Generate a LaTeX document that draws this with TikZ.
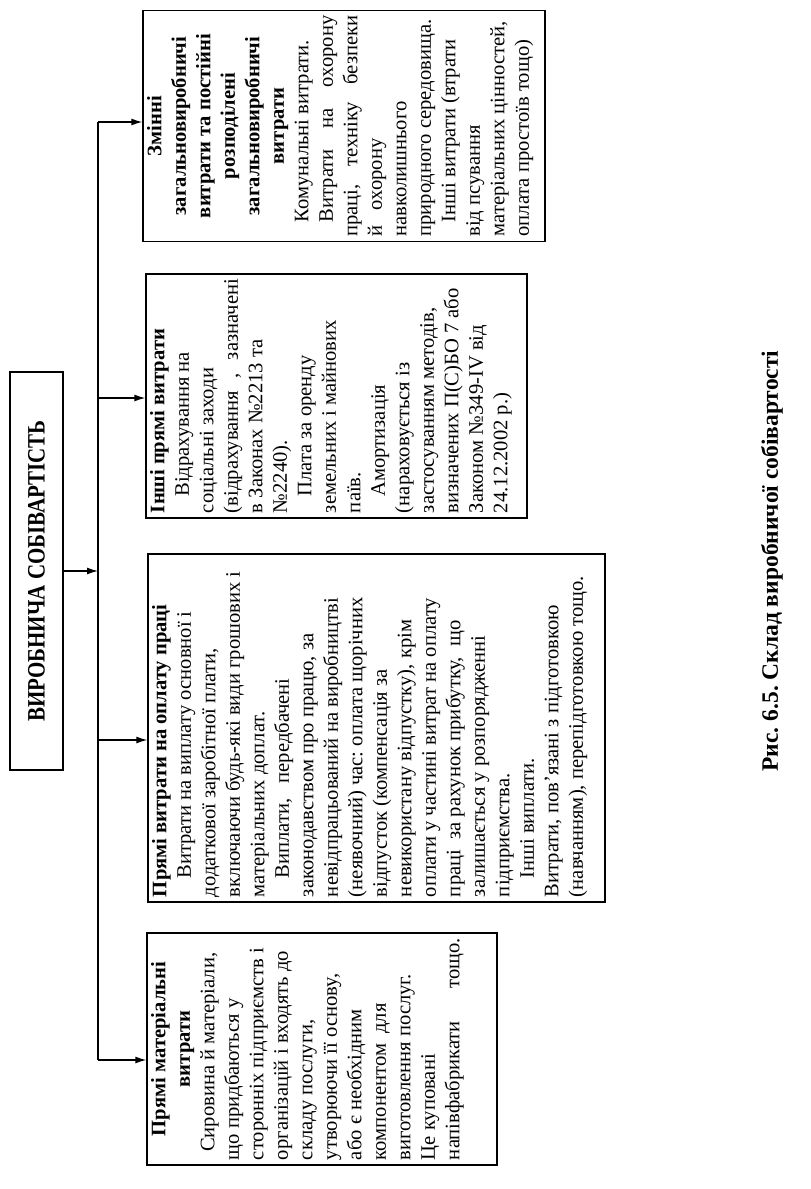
\documentclass[tikz,border=0pt]{standalone}
\usepackage{fontspec}
\setmainfont{Liberation Serif}
\usetikzlibrary{arrows.meta}
\frenchspacing
\newcommand\lineL[1]{\makebox[\linewidth][l]{#1}\par}
\newcommand\lineJ[1]{\makebox[\linewidth][s]{#1}\par}
\newcommand\lineC[1]{\makebox[\linewidth][c]{#1}\par}
\newcommand\boxcontent[3]{\parbox[c][#2][t]{#1}{\fontsize{20.6}{24.5}\selectfont\frenchspacing\parindent=0pt\parskip=0pt #3}}
\begin{document}
\begin{tikzpicture}[x=1pt,y=1pt,
  cbox/.style={draw, line width=1.3pt, rotate=90, inner xsep=5pt, inner ysep=4pt},
  arr/.style={line width=1.3pt, -{Latex[length=11pt,width=7pt]}},
  spine/.style={line width=1.3pt}]
\useasboundingbox (0,0) rectangle (811,-1189);

\node[cbox, minimum width=398pt, minimum height=53pt, inner sep=0pt] (main) at (36.5,-571)
  {\fontsize{25}{30}\selectfont\bfseries\scalebox{0.84}[1]{ВИРОБНИЧА СОБІВАРТІСТЬ}};

\node[cbox] (b4) at (344,-126) {\boxcontent{221pt}{394pt}{%
\lineC{\bfseries Змінні}
\lineC{\bfseries загальновиробничі}
\lineC{\bfseries витрати та постійні}
\lineC{\bfseries розподілені}
\lineC{\bfseries загальновиробничі}
\lineC{\bfseries витрати}
\lineL{\hspace*{0.7em}Комунальні витрати.}
\lineJ{\hspace*{0.7em}Витрати на охорону}
\lineJ{праці, техніку безпеки}
\lineL{й\ \ \ охорону}
\lineL{навколишнього}
\lineL{природного середовища.}
\lineL{\hspace*{0.7em}Інші витрати (втрати}
\lineL{від псування}
\lineL{матеріальних цінностей,}
\lineL{оплата простоїв тощо)}}};

\node[cbox] (b3) at (336.5,-396) {\boxcontent{234pt}{373pt}{%
\lineL{\bfseries Інші прямі витрати}
\lineL{\hspace*{0.8em}Відрахування на}
\lineL{соціальні заходи}
\lineJ{(відрахування , зазначені}
\lineL{в Законах №2213 та}
\lineL{№2240).}
\lineL{\hspace*{0.8em}Плата за оренду}
\lineL{земельних і майнових}
\lineL{паїв.}
\lineL{\hspace*{0.8em}Амортизація}
\lineL{(нараховується із}
\lineL{застосуванням методів,}
\lineL{визначених П(С)БО 7 або}
\lineL{Законом №349-IV від}
\lineL{24.12.2002 р.)}}};

\node[cbox] (b2) at (376.5,-728) {\boxcontent{338pt}{449pt}{%
\lineL{\bfseries Прямі витрати на оплату праці}
\lineL{\hspace*{0.9em}Витрати на виплату основної і}
\lineL{додаткової заробітної плати,}
\lineL{включаючи будь-які види грошових і}
\lineL{матеріальних доплат.}
\lineL{\hspace*{0.9em}Виплати,\ \ \ передбачені}
\lineL{законодавством про працю, за}
\lineL{невідпрацьований на виробництві}
\lineL{(неявочний) час: оплата щорічних}
\lineL{відпусток (компенсація за}
\lineL{невикористану відпустку), крім}
\lineL{оплати у частині витрат на оплату}
\lineL{праці\ \ за рахунок прибутку,\ \ що}
\lineL{залишається у розпорядженні}
\lineL{підприємства.}
\lineL{\hspace*{0.9em}Інші виплати.}
\lineL{Витрати, пов’язані з підготовкою}
\lineL{(навчанням), перепідготовкою тощо.}}};

\node[cbox] (b1) at (322,-1049) {\boxcontent{222pt}{342pt}{%
\lineC{\bfseries Прямі матеріальні}
\lineC{\bfseries витрати}
\lineL{\hspace*{0.4em}Сировина й матеріали,}
\lineL{що придбаються у}
\lineL{сторонніх підприємств і}
\lineL{організацій і входять до}
\lineL{складу послуги,}
\lineL{утворюючи її основу,}
\lineL{або є необхідним}
\lineL{компонентом\ \ для}
\lineL{виготовлення послуг.}
\lineL{Це куповані}
\lineJ{напівфабрикати тощо.}}};

\coordinate (s4) at (98,-122);
\coordinate (s3) at (98,-398);
\coordinate (s2) at (98,-740);
\coordinate (s1) at (98,-1060);
\draw[spine] (s4) -- (s1);
\draw[arr] (main.south) -- (main.south -| s4);
\draw[arr] (s4) -- (s4 -| b4.north);
\draw[arr] (s3) -- (s3 -| b3.north);
\draw[arr] (s2) -- (s2 -| b2.north);
\draw[arr] (s1) -- (s1 -| b1.north);

\node[rotate=90, font=\fontsize{23.5}{28}\selectfont\bfseries] (cap) at (772,-561)
  {Рис. 6.5. Склад виробничої собівартості};
\end{tikzpicture}
\end{document}
